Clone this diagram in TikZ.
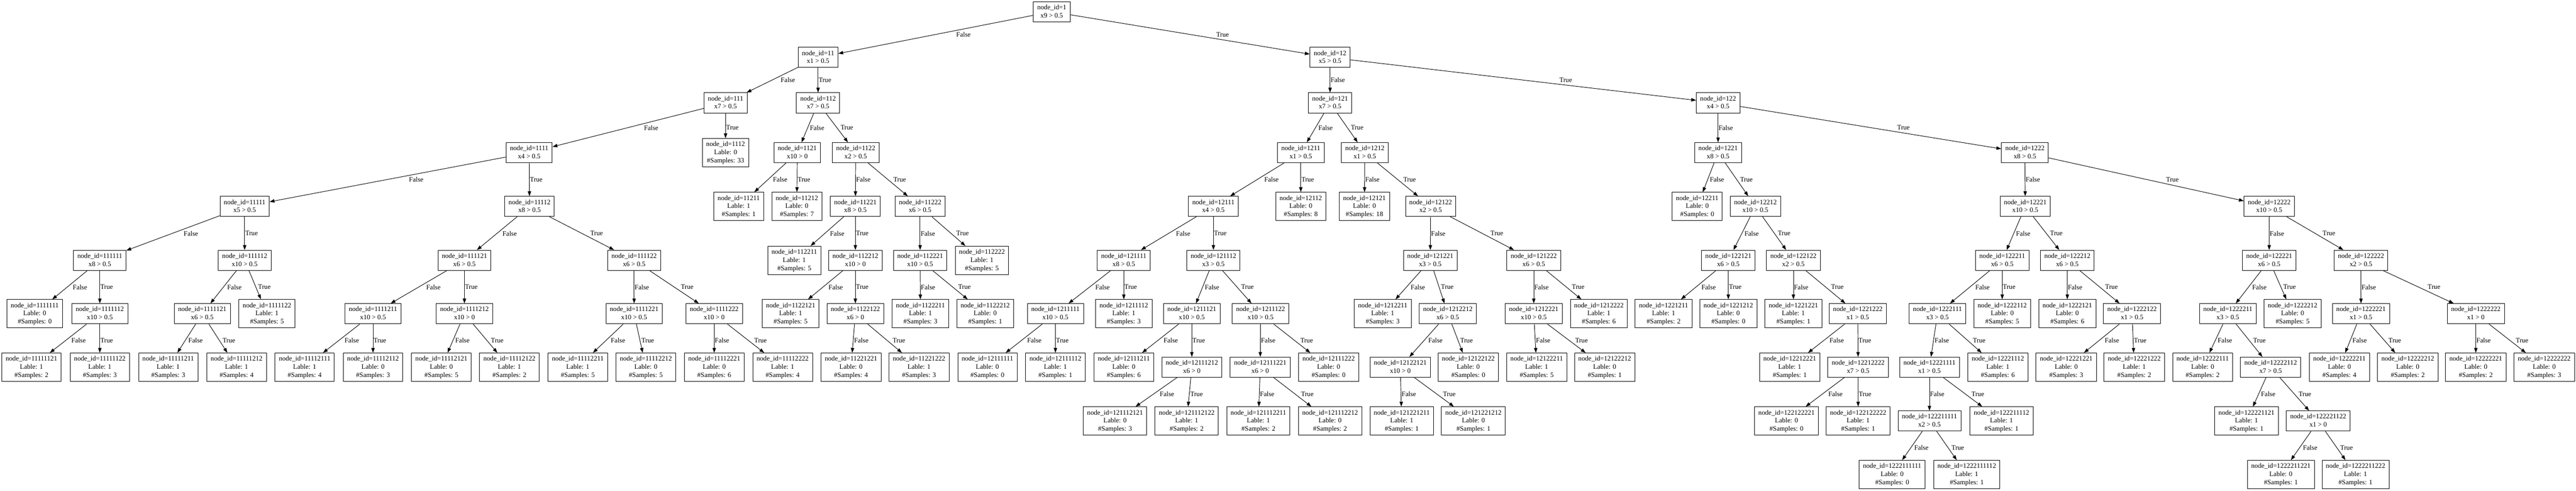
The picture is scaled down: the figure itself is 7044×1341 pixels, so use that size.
\documentclass[tikz,border=0pt]{standalone}
\usepackage{fontspec}
\setmainfont{Liberation Serif}
\usetikzlibrary{arrows.meta,calc}
\newcommand\sline{\rule[-4.6pt]{0pt}{16.8pt}}
\tikzset{
 tnode/.style={draw, line width=1pt, rectangle, align=center, inner xsep=7.92pt, inner ysep=3.96pt, minimum width=54pt, font=\fontsize{14}{16.8}\selectfont},
 arr/.style={line width=1pt, -{Triangle[length=10pt,width=7pt]}},
 elabel/.style={anchor=west, inner sep=0pt, font=\fontsize{14}{16.8}\selectfont},
}
\newcommand\IN[4]{\node[tnode] (n#1) at (#2,#3) {\sline node\_id=#1\\\sline #4};}
\newcommand\LF[5]{\node[tnode] (n#1) at (#2,#3) {\sline node\_id=#1\\\sline Lable: #4\\\sline\#Samples: #5};}
\newcommand\E[3]{\draw[arr] (#1) -- (#2);
 \path let \p1=(#1.center), \p2=(#2.center), \n1={abs(\x2-\x1)/abs(\y2-\y1)*8.4} in node[elabel] at ({(\x1+\x2)/2+\n1*1pt+1pt},{(\y1+\y2)/2}) {#3};}
\newcommand\K[1]{\E{n#1}{n#11}{False}\E{n#1}{n#12}{True}}
\def\yA{32}\def\yB{157}\def\yC{281}\def\yD{417}\def\yE{564}
\def\yF{711}\def\yG{857}\def\yH{1003}\def\yI{1150}\def\yJ{1296}
\begin{document}
\begin{tikzpicture}[x=0.75472pt,y=-0.75472pt]
\fill[white] (0,0) rectangle (7044,1341);
\useasboundingbox (0,0) rectangle (7044,1341);
% depth 0-3
\IN{1}{2876}{\yA}{x9 > 0.5}
\IN{11}{2237}{\yB}{x1 > 0.5}
\IN{12}{3637}{\yB}{x5 > 0.5}
\IN{111}{1984}{\yC}{x7 > 0.5}
\IN{112}{2237}{\yC}{x7 > 0.5}
\IN{121}{3637}{\yC}{x7 > 0.5}
\IN{122}{4698}{\yC}{x4 > 0.5}
\IN{1111}{1447}{\yD}{x4 > 0.5}
\LF{1112}{1984}{\yD}{0}{33}
\IN{1121}{2180}{\yD}{x10 > 0}
\IN{1122}{2340}{\yD}{x2 > 0.5}
\IN{1211}{3557}{\yD}{x1 > 0.5}
\IN{1212}{3732}{\yD}{x1 > 0.5}
\IN{1221}{4698}{\yD}{x8 > 0.5}
\IN{1222}{5537}{\yD}{x8 > 0.5}
% depth 4
\IN{11111}{669}{\yE}{x5 > 0.5}
\IN{11112}{1448}{\yE}{x8 > 0.5}
\LF{11211}{2020}{\yE}{1}{1}
\LF{11212}{2179}{\yE}{0}{7}
\IN{11221}{2339}{\yE}{x8 > 0.5}
\IN{11222}{2516}{\yE}{x6 > 0.5}
\IN{12111}{3318}{\yE}{x4 > 0.5}
\LF{12112}{3557}{\yE}{0}{8}
\LF{12121}{3731}{\yE}{0}{18}
\IN{12122}{3912}{\yE}{x2 > 0.5}
\LF{12211}{4641}{\yE}{0}{0}
\IN{12212}{4800}{\yE}{x10 > 0.5}
\IN{12221}{5538}{\yE}{x10 > 0.5}
\IN{12222}{6205}{\yE}{x10 > 0.5}
% depth 5
\IN{111111}{273}{\yF}{x8 > 0.5}
\IN{111112}{669}{\yF}{x10 > 0.5}
\IN{111121}{1270}{\yF}{x6 > 0.5}
\IN{111122}{1734}{\yF}{x6 > 0.5}
\LF{112211}{2172}{\yF}{1}{5}
\IN{112212}{2339}{\yF}{x10 > 0}
\IN{112221}{2516}{\yF}{x10 > 0.5}
\LF{112222}{2685}{\yF}{1}{5}
\IN{121111}{3073}{\yF}{x8 > 0.5}
\IN{121112}{3318}{\yF}{x3 > 0.5}
\IN{121221}{3911}{\yF}{x3 > 0.5}
\IN{121222}{4194}{\yF}{x6 > 0.5}
\IN{122121}{4726}{\yF}{x6 > 0.5}
\IN{122122}{4904}{\yF}{x2 > 0.5}
\IN{122211}{5475}{\yF}{x6 > 0.5}
\IN{122212}{5653}{\yF}{x6 > 0.5}
\IN{122221}{6205}{\yF}{x6 > 0.5}
\IN{122222}{6456}{\yF}{x2 > 0.5}
% depth 6
\LF{1111111}{95}{\yG}{0}{0}
\IN{1111112}{273}{\yG}{x10 > 0.5}
\IN{1111121}{553}{\yG}{x6 > 0.5}
\LF{1111122}{730}{\yG}{1}{5}
\IN{1111211}{1020}{\yG}{x10 > 0.5}
\IN{1111212}{1270}{\yG}{x10 > 0}
\IN{1111221}{1734}{\yG}{x10 > 0.5}
\IN{1111222}{1953}{\yG}{x10 > 0}
\LF{1122121}{2162}{\yG}{1}{5}
\IN{1122122}{2339}{\yG}{x6 > 0}
\LF{1122211}{2517}{\yG}{1}{3}
\LF{1122212}{2694}{\yG}{0}{1}
\IN{1211111}{2886}{\yG}{x10 > 0.5}
\LF{1211112}{3073}{\yG}{1}{3}
\IN{1211121}{3259}{\yG}{x10 > 0.5}
\IN{1211122}{3447}{\yG}{x10 > 0.5}
\LF{1212211}{3781}{\yG}{1}{3}
\IN{1212212}{3959}{\yG}{x6 > 0.5}
\IN{1212221}{4194}{\yG}{x10 > 0.5}
\LF{1212222}{4372}{\yG}{1}{6}
\LF{1221211}{4549}{\yG}{1}{2}
\LF{1221212}{4726}{\yG}{0}{0}
\LF{1221221}{4904}{\yG}{1}{1}
\IN{1221222}{5080}{\yG}{x1 > 0.5}
\IN{1222111}{5298}{\yG}{x3 > 0.5}
\LF{1222112}{5475}{\yG}{0}{5}
\LF{1222121}{5653}{\yG}{0}{6}
\IN{1222122}{5830}{\yG}{x1 > 0.5}
\IN{1222211}{6092}{\yG}{x3 > 0.5}
\LF{1222212}{6269}{\yG}{0}{5}
\IN{1222221}{6456}{\yG}{x1 > 0.5}
\IN{1222222}{6770}{\yG}{x1 > 0}
% depth 7
\LF{11111121}{86}{\yH}{1}{2}
\LF{11111122}{273}{\yH}{1}{3}
\LF{11111211}{460}{\yH}{1}{3}
\LF{11111212}{647}{\yH}{1}{4}
\LF{11112111}{833}{\yH}{1}{4}
\LF{11112112}{1020}{\yH}{0}{3}
\LF{11112121}{1207}{\yH}{0}{5}
\LF{11112122}{1393}{\yH}{1}{2}
\LF{11112211}{1580}{\yH}{1}{5}
\LF{11112212}{1766}{\yH}{0}{5}
\LF{11112221}{1953}{\yH}{0}{6}
\LF{11112222}{2140}{\yH}{1}{4}
\LF{11221221}{2327}{\yH}{0}{4}
\LF{11221222}{2513}{\yH}{1}{3}
\LF{12111111}{2700}{\yH}{0}{0}
\LF{12111112}{2886}{\yH}{1}{1}
\LF{12111211}{3073}{\yH}{0}{6}
\IN{12111212}{3259}{\yH}{x6 > 0}
\IN{12111221}{3446}{\yH}{x6 > 0}
\LF{12111222}{3633}{\yH}{0}{0}
\IN{12122121}{3829}{\yH}{x10 > 0}
\LF{12122122}{4015}{\yH}{0}{0}
\LF{12122211}{4202}{\yH}{1}{5}
\LF{12122212}{4388}{\yH}{0}{1}
\LF{12212221}{4894}{\yH}{1}{1}
\IN{12212222}{5081}{\yH}{x7 > 0.5}
\IN{12221111}{5276}{\yH}{x1 > 0.5}
\LF{12221112}{5463}{\yH}{1}{6}
\LF{12221221}{5650}{\yH}{0}{3}
\LF{12221222}{5836}{\yH}{1}{2}
\LF{12222111}{6023}{\yH}{0}{2}
\IN{12222112}{6209}{\yH}{x7 > 0.5}
\LF{12222211}{6397}{\yH}{0}{4}
\LF{12222212}{6584}{\yH}{0}{2}
\LF{12222221}{6770}{\yH}{0}{2}
\LF{12222222}{6957}{\yH}{0}{3}
% depth 8
\LF{121112121}{3049}{\yI}{0}{3}
\LF{121112122}{3245}{\yI}{1}{2}
\LF{121112211}{3441}{\yI}{1}{2}
\LF{121112212}{3637}{\yI}{0}{2}
\LF{121221211}{3833}{\yI}{1}{1}
\LF{121221212}{4029}{\yI}{0}{1}
\LF{122122221}{4885}{\yI}{0}{0}
\LF{122122222}{5081}{\yI}{1}{1}
\IN{122211111}{5276}{\yI}{x2 > 0.5}
\LF{122211112}{5473}{\yI}{1}{1}
\LF{122221121}{6143}{\yI}{1}{1}
\IN{122221122}{6339}{\yI}{x1 > 0}
% depth 9
\LF{1222111111}{5174}{\yJ}{0}{0}
\LF{1222111112}{5378}{\yJ}{1}{1}
\LF{1222211221}{6237}{\yJ}{0}{1}
\LF{1222211222}{6441}{\yJ}{1}{1}
% edges
\K{1}\K{11}\K{12}\K{111}\K{112}\K{121}\K{122}
\K{1111}\K{1121}\K{1122}\K{1211}\K{1212}\K{1221}\K{1222}
\K{11111}\K{11112}\K{11221}\K{11222}\K{12111}\K{12122}\K{12212}\K{12221}\K{12222}
\K{111111}\K{111112}\K{111121}\K{111122}\K{112212}\K{112221}\K{121111}\K{121112}
\K{121221}\K{121222}\K{122121}\K{122122}\K{122211}\K{122212}\K{122221}\K{122222}
\K{1111112}\K{1111121}\K{1111211}\K{1111212}\K{1111221}\K{1111222}\K{1122122}
\K{1211111}\K{1211121}\K{1211122}\K{1212212}\K{1212221}\K{1221222}\K{1222111}
\K{1222122}\K{1222211}\K{1222221}\K{1222222}
\K{12111212}\K{12111221}\K{12122121}\K{12212222}\K{12221111}\K{12222112}
\K{122211111}\K{122221122}
\end{tikzpicture}
\end{document}
